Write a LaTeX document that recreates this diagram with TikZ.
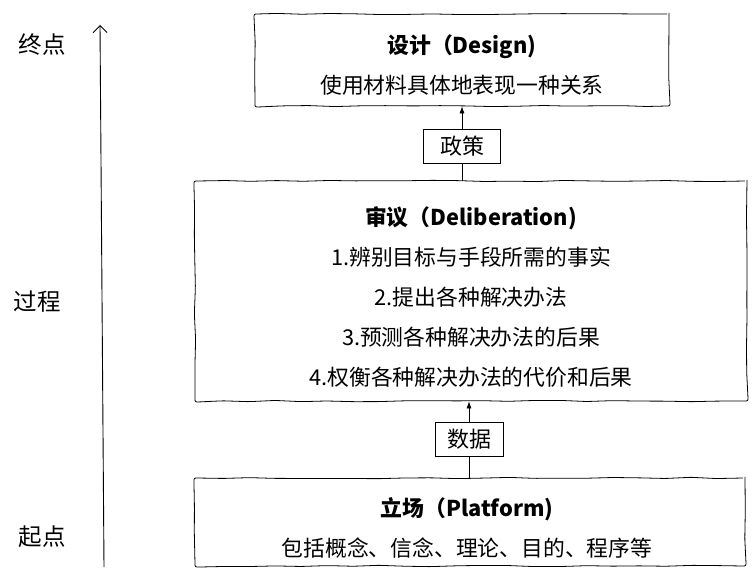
\documentclass[tikz,border=0pt]{standalone}
\usepackage{fontspec}
\setmainfont{Noto Sans CJK SC}
\usetikzlibrary{arrows.meta, decorations.pathmorphing}

\begin{document}
\begin{tikzpicture}[x=1pt, y=-1pt,
            stage/.style={rectangle, draw=black, line width=0.8pt, rounded corners=2pt, decorate, decoration={random steps, segment length=26pt, amplitude=0.7pt}},
            body/.style={align=center, inner sep=0pt, font=\fontsize{21.8}{40.2}\selectfont},
            tag/.style={rectangle, draw=black, line width=0.6pt, inner sep=0pt, minimum height=34pt, font=\fontsize{22}{24}\selectfont},
            arrow/.style={-{Latex[length=7pt, width=5pt]}, line width=0.6pt},
            axis/.style={-{Straight Barb[length=7pt, width=14pt]}, line width=0.9pt},
            side/.style={font=\fontsize{23.5}{26}\selectfont}
        ]
            \pgfmathsetseed{11}
            \useasboundingbox (0,0) rectangle (755,572);

            % Left axis: start -> end
            \coordinate (axisfoot) at (104,567);
            \coordinate (axistop) at (100,25);
            \draw[axis] (axisfoot) -- (axistop);
            \node[side] (endpt) at (42,45) {终点};
            \node[side] (process) at (37,302) {过程};
            \node[side] (startpt) at (42,537) {起点};

            % Stages (top to bottom)
            \node[stage, minimum width=414pt, minimum height=92pt] (design) at (462,60) {};
            \node[body] (designtxt) at (462,65) {\textbf{设计（Design)}\\使用材料具体地表现一种关系};
            \node[stage, minimum width=552pt, minimum height=220pt] (delib) at (471,291) {};
            \node[body] (delibtxt) at (471,297) {\textbf{审议（Deliberation)}\\1.辨别目标与手段所需的事实\\2.提出各种解决办法\\3.预测各种解决办法的后果\\4.权衡各种解决办法的代价和后果};
            \node[stage, minimum width=550pt, minimum height=88pt] (platform) at (470,522) {};
            \node[body] (platformtxt) at (467,528) {\textbf{立场（Platform)}\\包括概念、信念、理论、目的、程序等};

            % Links between stages
            \node[tag, minimum width=77pt] (policy) at (462,146) {政策};
            \node[tag, minimum width=68pt] (data) at (469,439) {数据};

            \draw[line width=0.6pt] (policy.south) -- (policy.south |- delib.north);
            \draw[arrow] (policy.north) -- (policy.north |- design.south);
            \draw[line width=0.6pt] (data.south) -- (data.south |- platform.north);
            \draw[arrow] (data.north) -- (data.north |- delib.south);
        \end{tikzpicture}
\end{document}
